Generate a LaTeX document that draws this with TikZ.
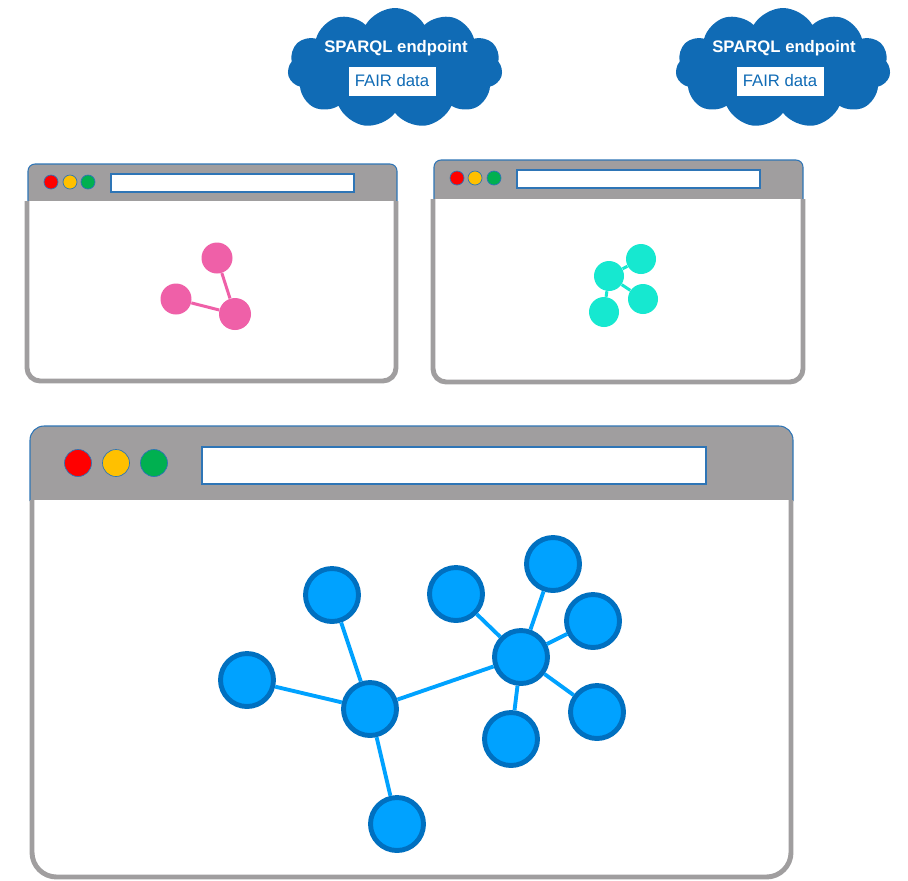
\documentclass[tikz,border=0pt]{standalone}
\usepackage{fontspec}
\setmainfont{Liberation Sans}
\usetikzlibrary{shapes.symbols}

\definecolor{framegray}{HTML}{A09E9F}
\definecolor{barblue}{HTML}{2E75B6}
\definecolor{cloudblue}{HTML}{106BB5}
\definecolor{dotred}{HTML}{FF0000}
\definecolor{dotyellow}{HTML}{FFC000}
\definecolor{dotgreen}{HTML}{00B050}
\definecolor{graphpink}{HTML}{EF60A8}
\definecolor{graphcyan}{HTML}{16E8D0}
\definecolor{graphblue}{HTML}{00A2FF}
\definecolor{graphdark}{HTML}{0070C0}

\begin{document}
\begin{tikzpicture}[x=0.02cm,y=-0.02cm,
    endpoint/.style={cloud,cloud puffs=11,cloud puff arc=120,aspect=1.8,fill=cloudblue,
                     minimum width=4.3cm,minimum height=2.4cm},
    endpoint text/.style={text=white,font=\fontsize{9.5}{11}\selectfont\bfseries},
    data box/.style={fill=white,text=cloudblue,font=\fontsize{9.5}{11}\selectfont,
                     minimum width=1.74cm,minimum height=0.58cm,inner sep=0pt},
    bar/.style={fill=framegray,draw=barblue,line width=0.6pt},
    frame/.style={draw=framegray,fill=white,line width=2.8pt},
    address/.style={draw=barblue,fill=white,line width=0.6pt},
    dot/.style={circle,draw=barblue,line width=0.4pt,inner sep=0pt,minimum size=0.28cm},
    big dot/.style={dot,minimum size=0.54cm},
    pink node/.style={circle,fill=graphpink,inner sep=0pt,minimum size=0.62cm},
    cyan node/.style={circle,fill=graphcyan,inner sep=0pt,minimum size=0.6cm},
    blue node/.style={circle,fill=graphblue,draw=graphdark,line width=2.8pt,
                      inner sep=0pt,minimum size=1.06cm}]
  \useasboundingbox (0,0) rectangle (908,880);

  % endpoints
  \node[endpoint] (cloud1) at (395,68) {};
  \node[endpoint text] (sparql1) at (396,48) {SPARQL endpoint};
  \node[data box] (fair1) at (392,81) {FAIR data};
  \node[endpoint] (cloud2) at (783,68) {};
  \node[endpoint text] (sparql2) at (784,48) {SPARQL endpoint};
  \node[data box] (fair2) at (780,81) {FAIR data};

  % small window, left
  \draw[bar,rounded corners=4pt] (28,202) -- (28,164) -- (397,164) -- (397,202);
  \draw[frame,rounded corners=7.5pt] (27,201) -- (27,381) -- (396,381) -- (396,201);
  \draw[address] (111,174) rectangle (354,192);
  \node[dot,fill=dotred] (red1) at (51,182) {};
  \node[dot,fill=dotyellow] (yellow1) at (70,182) {};
  \node[dot,fill=dotgreen] (green1) at (88,182) {};
  \node[pink node] (p1) at (217,258) {};
  \node[pink node] (p2) at (176,299) {};
  \node[pink node,minimum size=0.64cm] (p3) at (235,314) {};
  \path[draw=graphpink,line width=1.7pt]
    (p3) edge (p1)
         edge (p2);

  % small window, right
  \draw[bar,rounded corners=4pt] (434,200) -- (434,160) -- (803,160) -- (803,200);
  \draw[frame,rounded corners=7.5pt] (433,199) -- (433,382) -- (803,382) -- (803,199);
  \draw[address] (517,170) rectangle (760,188);
  \node[dot,fill=dotred] (red2) at (457,178) {};
  \node[dot,fill=dotyellow] (yellow2) at (475,178) {};
  \node[dot,fill=dotgreen] (green2) at (494,178) {};
  \node[cyan node] (c1) at (609,276) {};
  \node[cyan node] (c2) at (641,259) {};
  \node[cyan node] (c3) at (643,299) {};
  \node[cyan node] (c4) at (604,312) {};
  \path[draw=graphcyan,line width=1.7pt]
    (c1) edge (c2)
         edge (c3)
         edge (c4);

  % big window
  \draw[bar,rounded corners=8pt] (30,501) -- (30,426) -- (793,426) -- (793,501);
  \draw[frame,rounded corners=14pt] (32,500) -- (32,877) -- (791,877) -- (791,500);
  \draw[address] (202,447) rectangle (706,484);
  \node[big dot,fill=dotred] (red3) at (78,463) {};
  \node[big dot,fill=dotyellow] (yellow3) at (116,463) {};
  \node[big dot,fill=dotgreen] (green3) at (154,463) {};

  \node[blue node] (hub1) at (370,709) {};
  \node[blue node] (hub2) at (521,657) {};
  \node[blue node] (l1) at (247,680) {};
  \node[blue node] (l2) at (332,595) {};
  \node[blue node] (l3) at (397,824) {};
  \node[blue node] (r1) at (456,594) {};
  \node[blue node] (r2) at (553,564) {};
  \node[blue node] (r3) at (593,621) {};
  \node[blue node] (r4) at (597,712) {};
  \node[blue node] (r5) at (511,739) {};
  \path[draw=graphblue,line width=2.2pt]
    (hub1) edge (l1)
           edge (l2)
           edge (l3)
           edge (hub2)
    (hub2) edge (r1)
           edge (r2)
           edge (r3)
           edge (r4)
           edge (r5);
\end{tikzpicture}
\end{document}
